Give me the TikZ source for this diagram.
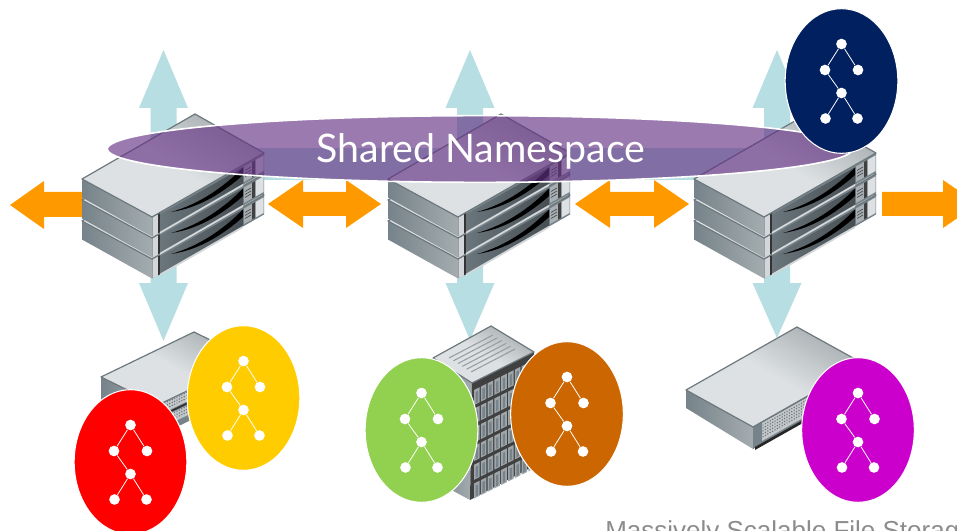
\documentclass[tikz,border=0pt]{standalone}
\usepackage{fontspec}
\setmainfont{Liberation Sans}
\newfontfamily\gillish{Lato}
\definecolor{teal1}{HTML}{B7DEE2}
\definecolor{orange1}{HTML}{FF9900}
\definecolor{edgegray}{HTML}{6D787C}
\definecolor{lightface}{HTML}{DDE1E3}
\definecolor{midface}{HTML}{A9AFB2}
\definecolor{sideA}{HTML}{76838A}
\definecolor{sideB}{HTML}{A4ACAF}
\definecolor{nsfill}{HTML}{653284}
\definecolor{ballyellow}{HTML}{FFCC00}
\definecolor{ballred}{HTML}{FF0000}
\definecolor{ballgreen}{HTML}{92D050}
\definecolor{ballbrown}{HTML}{CC6600}
\definecolor{ballmagenta}{HTML}{CC00CC}
\definecolor{ballnavy}{HTML}{002060}
\tikzset{
  bluearrow/.style={fill=teal1,draw=none},
  orangearrow/.style={fill=orange1,draw=none},
  topface/.style={draw=edgegray,line width=0.9pt,line join=round,top color=midface,bottom color=lightface,middle color=lightface,shading angle=-30},
  sideface/.style={draw=none,left color=sideA,right color=sideB},
  frontface/.style={draw=none,fill=sideA},
  ball/.style={ellipse,draw=white,line width=0.8pt,minimum width=84.5pt,minimum height=108.5pt,inner sep=0pt},
  treedot/.style={circle,fill=white,draw=none,minimum size=8pt,inner sep=0pt},
  treeline/.style={draw=white,line width=0.6pt}
}
\usetikzlibrary{shapes.geometric}
% one rack server, x offset #1, y offset #2
\newcommand{\serverunit}[2]{%
 \begin{scope}[shift={(#1,#2)}]
  \path[sideface] (82,179) -- (152,217) -- (152,236.5) -- (82,197.5) -- cycle;
  \path[frontface] (152,217) -- (264,153) -- (264,172.5) -- (152,236.5) -- cycle;
  \fill[lightface!80!midface] (152.5,217.5) -- (158,214.3) -- (158,233.4) -- (152.5,236.4) -- cycle;
  \fill[black!80] (158,214.3) -- (160,213.2) -- (160,232.3) -- (158,233.4) -- cycle;
  \path[left color=sideA!90!black,right color=sideA!60!black] (160,214.6) -- (243,167.3) -- (243,183.5) -- (160,231.3) -- cycle;
  \fill[black] (171,212) .. controls (200,204) and (225,186) .. (243,167.5) -- (243,175) .. controls (225,191) and (200,208) .. (171,212) -- cycle;
  \fill[lightface!80!midface] (160,231.8) -- (243,184) -- (243,186) -- (160,233.8) -- cycle;
  \fill[midface] (244,166.5) -- (252,162) -- (252,177.5) -- (244,182) -- cycle;
  \draw[sideA!60!black,line width=0.5pt] (245,170.5) -- (251,167) (245,173.5) -- (251,170) (245,176.5) -- (251,173);
  \fill[black!75] (252,162) -- (255,160.2) -- (255,175.8) -- (252,177.5) -- cycle;
  \fill[lightface] (255.5,160) -- (263.5,155.4) -- (263.5,171) -- (255.5,175.6) -- cycle;
  \path[topface] (82,179) -- (195,114) -- (264,153) -- (152,217) -- cycle;
 \end{scope}}
\newcommand{\serverstack}[1]{%
  \serverunit{#1}{42}\serverunit{#1}{21}\serverunit{#1}{0}}
% vertical arrows for a stack centred at #1
\newcommand{\tealarrows}[2]{%
  \path[bluearrow] (#1,50) -- (#1+24.5,108) -- (#1+13,108) -- (#1+13,225) -- (#1-13,225) -- (#1-13,108) -- (#1-24.5,108) -- cycle;
  \path[bluearrow] (#1,#2) -- (#1+24.5,283) -- (#1+13,283) -- (#1+13,225) -- (#1-13,225) -- (#1-13,283) -- (#1-24.5,283) -- cycle;}
\newcommand{\orangedouble}[2]{%
  \path[orangearrow] (#1,204) -- (#1+35,180) -- (#1+35,192) -- (#2-35,192) -- (#2-35,180) -- (#2,204) -- (#2-35,228) -- (#2-35,216) -- (#1+35,216) -- (#1+35,228) -- cycle;}
% ball with tree: name, x, y, colour
\newcommand{\treeball}[4]{%
  \node[ball,fill=#4] (#1) at (#2,#3) {};
  \node[treedot] (#1t) at (#2,#3-37) {};
  \node[treedot] (#1l) at (#2-16.5,#3-11) {};
  \node[treedot] (#1r) at (#2+16.5,#3-11) {};
  \node[treedot] (#1m) at (#2,#3+12) {};
  \node[treedot] (#1a) at (#2-16,#3+37.5) {};
  \node[treedot] (#1b) at (#2+16,#3+37.5) {};
  \draw[treeline] (#1t) -- (#1l) (#1t) -- (#1r) (#1l) -- (#1m) (#1m) -- (#1a) (#1m) -- (#1b);}
\newcommand{\meshdots}[6]{% x y dx dy cols rows
  \foreach \i in {0,...,#5}{\foreach \j in {0,...,#6}{
    \fill[sideA!85!black] ({#1+\i*#3},{#2+\i*#4+\j*2.9}) circle (0.55pt);}}}
\begin{document}
\begin{tikzpicture}[x=0.75pt,y=-0.75pt]
\useasboundingbox (0,0) rectangle (957,531);
\clip (0,0) rectangle (957,531);
% horizontal light bar behind the namespace
\fill[teal1] (200,148) rectangle (760,180);
\tealarrows{163.5}{341}
\tealarrows{470}{340}
\tealarrows{777}{338}
% orange arrows
\path[orangearrow] (10,205) -- (44,181) -- (44,192) -- (90,192) -- (90,217) -- (44,217) -- (44,229) -- cycle;
\orangedouble{268}{381}
\orangedouble{575}{689}
\path[orangearrow] (882,192) -- (943,192) -- (943,180) -- (978,204) -- (943,228) -- (943,216) -- (882,216) -- cycle;
% servers
\serverstack{0}
\serverstack{306}
\serverstack{612}
% namespace
\node[ellipse,fill=nsfill,fill opacity=0.65,draw=white,draw opacity=1,line width=1.2pt,minimum width=559pt,minimum height=50pt,inner sep=0pt] (ns) at (480,149) {};
\node[text=white,font=\gillish\fontsize{29.5}{31}\selectfont,inner sep=0pt] (nslabel) at (481,151) {Shared Namespace};
% left small device
\path[sideface] (101,377) -- (158,405) -- (158,436) -- (101,408) -- cycle;
\path[frontface] (158,405) -- (251,360) -- (251,391) -- (158,436) -- cycle;
\fill[midface!70!white] (163,403) -- (215,378) -- (215,388) -- (163,413) -- cycle;
\fill[black!80] (163,414) -- (215,389) -- (215,391) -- (163,416) -- cycle;
\fill[midface!70!white] (163,417) -- (215,392) -- (215,402) -- (163,427) -- cycle;
\meshdots{165}{403}{2.4}{-1.16}{20}{2}
\meshdots{165}{417}{2.4}{-1.16}{20}{2}
\path[topface] (101,377) -- (194,332) -- (251,360) -- (158,405) -- cycle;
% right small device
\path[sideface] (686,390) -- (753,427) -- (753,449) -- (686,408) -- cycle;
\path[frontface] (753,427) -- (864,364) -- (864,386) -- (753,449) -- cycle;
\fill[midface!70!white] (762,423) -- (810,396) -- (810,414) -- (762,441) -- cycle;
\fill[black!85] (755,447) -- (810,416) -- (810,419) -- (755,450) -- cycle;
\meshdots{763}{425}{2.4}{-1.36}{19}{4}
\path[topface] (686,390) -- (797,327) -- (864,364) -- (753,427) -- cycle;
% rack
\path[sideface] (433,358) -- (472,383) -- (470,500) -- (433,480) -- cycle;
\path[frontface,fill=black!75] (472,383) -- (534,352) -- (534,466) -- (470,500) -- cycle;
\foreach \r in {0,...,5}{
  \foreach \c in {0,...,8}{
    \fill[midface!80!sideA] ({474+\c*6.8},{390+\r*18.7-\c*3.4}) -- ++(5.6,-2.8) -- ++(0,15) -- ++(-5.6,2.8) -- cycle;
    \fill[sideA] ({475.6+\c*6.8},{392+\r*18.7-\c*3.4}) -- ++(2.4,-1.2) -- ++(0,11) -- ++(-2.4,1.2) -- cycle;
  }}
\path[topface] (433,358) -- (491,326) -- (534,352) -- (472,383) -- cycle;
\foreach \k in {0,...,5}{\draw[midface!90!black,line width=0.8pt] ({449+\k*4.4},{358+\k*2.8}) -- ++(44,-23);}
% balls
\treeball{yel}{243.5}{398}{ballyellow}
\treeball{red}{130.5}{462}{ballred}
\treeball{grn}{421.5}{430}{ballgreen}
\treeball{brn}{567}{414}{ballbrown}
\treeball{mag}{858}{430}{ballmagenta}
\treeball{nav}{841.5}{81}{ballnavy}
\node[anchor=base west,inner sep=0pt,text=black!45,font=\fontsize{19.5}{21}\selectfont] (caption) at (605,539) {Massively Scalable File Storage};
\end{tikzpicture}
\end{document}
